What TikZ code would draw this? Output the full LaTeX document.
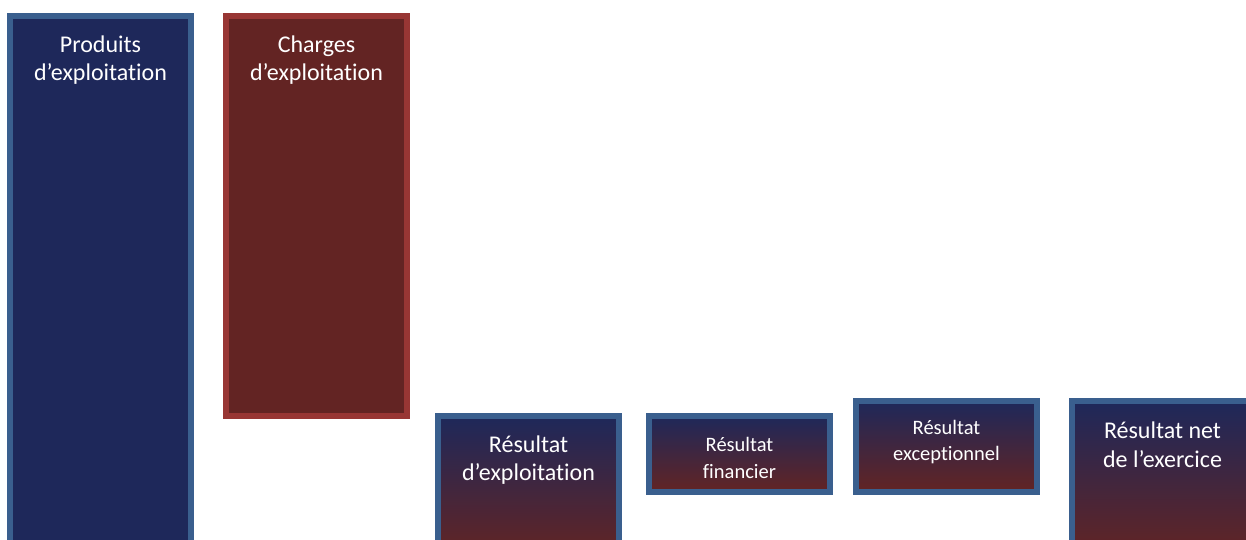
\documentclass[tikz,border=0pt]{standalone}
\usepackage{fontspec}
\setmainfont{Carlito}[Ligatures=NoCommon]
\definecolor{bluebd}{HTML}{3A5F8E}
\definecolor{navy}{HTML}{1E285A}
\definecolor{redbd}{HTML}{983634}
\definecolor{maroon}{HTML}{632423}
\begin{document}
\begin{tikzpicture}[x=1pt,y=1pt,
  boxbase/.style={rectangle,line width=6pt,inner sep=0pt,outer sep=0pt,anchor=north west},
  bluebox/.style={boxbase,draw=bluebd,fill=navy},
  redbox/.style={boxbase,draw=redbd,fill=maroon},
  gradbox/.style={boxbase,draw=bluebd,top color=navy,bottom color=maroon,middle color=navy!50!maroon},
  bigtxt/.style={text=white,align=center,font=\fontsize{24}{28.5}\selectfont,inner sep=0pt},
  smalltxt/.style={text=white,align=center,font=\fontsize{20.5}{26.5}\selectfont,inner sep=0pt}]
\useasboundingbox (0,0) rectangle (1246,540);
\clip (0,0) rectangle (1246,540);
% boxes (outer px: x1,y1 - x2,y2 ; Y = 540 - y)
\node[bluebox,minimum width=181pt,minimum height=541pt] (prod) at (10,524) {};
\node[redbox,minimum width=181pt,minimum height=400pt] (charg) at (226,524) {};
\node[gradbox,minimum width=181pt,minimum height=141pt] (rexp) at (438,124) {};
\node[gradbox,minimum width=181pt,minimum height=76pt] (rfin) at (649,124) {};
\node[gradbox,minimum width=181pt,minimum height=91pt] (rexc) at (856,139) {};
\node[gradbox,minimum width=181pt,minimum height=156pt] (rnet) at (1072,139) {};
% texts
\node[bigtxt] (tprod) at (100.5,480) {Produits\\d’exploitation};
\node[bigtxt] (tcharg) at (316.5,480) {Charges\\d’exploitation};
\node[bigtxt] (trexp) at (528.5,80) {Résultat\\d’exploitation};
\node[smalltxt] (trfin) at (739.5,82) {Résultat\\financier};
\node[smalltxt] (trexc) at (946.5,98) {Résultat\\exceptionnel};
\node[bigtxt] (trnet) at (1162.5,95) {Résultat net\\de l’exercice};
\end{tikzpicture}
\end{document}
